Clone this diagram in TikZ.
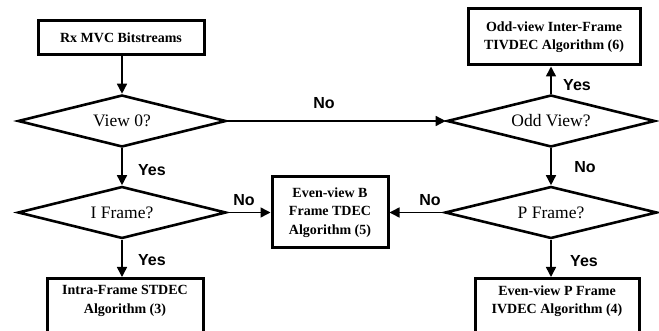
\documentclass[tikz,border=0pt]{standalone}
\usepackage{fontspec}
\setmainfont{Liberation Serif}
\newfontfamily\labfont{Liberation Sans}
\usetikzlibrary{shapes.geometric,arrows.meta}
\begin{document}
\begin{tikzpicture}[x=1pt,y=-1pt,
  procbox/.style={draw=black,line width=3pt,fill=white,inner sep=0pt,
    align=center,font=\bfseries\fontsize{14}{18.5}\selectfont},
  decision/.style={draw=black,line width=2.6pt,diamond,aspect=4,inner sep=0pt,
    minimum width=208pt,minimum height=52pt,font=\fontsize{17.5}{20}\selectfont},
  flow/.style={draw=black,line width=1.5pt,-{Triangle[length=10pt,width=10pt]}},
  lab/.style={font=\labfont\bfseries\fontsize{16}{18}\selectfont,inner sep=0pt}]
\useasboundingbox (0,0) rectangle (659,331);
\fill[white] (0,0) rectangle (659,331);
% boxes
\node[procbox,minimum width=166pt,minimum height=34pt] (rx) at (121,38) {Rx MVC Bitstreams};
\node[procbox,minimum width=172pt,minimum height=56pt] (odd) at (554,37) {Odd-view Inter-Frame\\TIVDEC Algorithm (6)};
\node[procbox,minimum width=116pt,minimum height=71pt] (evb) at (330,212.5) {Even-view B\\Frame TDEC\\Algorithm (5)};
\node[procbox,minimum width=156pt,minimum height=62pt,anchor=north,text depth=20pt] (intra) at (125,277) {Intra-Frame STDEC\\Algorithm (3)};
\node[procbox,minimum width=164pt,minimum height=62pt,anchor=north,text depth=20pt] (evp) at (557,277) {Even-view P Frame\\IVDEC Algorithm (4)};
% decisions
\node[decision] (v0) at (122,121) {View 0?};
\node[decision] (ov) at (551,121) {Odd View?};
\node[decision] (if) at (122,212.5) {I Frame?};
\node[decision,minimum width=212pt] (pf) at (551,212.5) {P Frame?};
% connectors
\draw[flow] (rx.south -| v0.north) -- (v0.north);
\draw[flow] (v0.east) -- (ov.west);
\draw[flow] (v0.south) -- (if.north);
\draw[flow] (ov.north) -- (ov.north |- odd.south);
\draw[flow] (ov.south) -- (pf.north);
\draw[flow] (if.east) -- (evb.west |- if.east);
\draw[flow] (pf.west) -- (evb.east |- pf.west);
\draw[flow] (if.south) -- (intra.north -| if.south);
\draw[flow] (pf.south) -- (evp.north -| pf.south);
% labels
\node[lab] (l1) at (324,103) {No};
\node[lab] (l2) at (152,170) {Yes};
\node[lab] (l3) at (577,85) {Yes};
\node[lab] (l4) at (585,167) {No};
\node[lab] (l5) at (244,200) {No};
\node[lab] (l6) at (430,200) {No};
\node[lab] (l7) at (152,260) {Yes};
\node[lab] (l8) at (584,261) {Yes};
\end{tikzpicture}
\end{document}
